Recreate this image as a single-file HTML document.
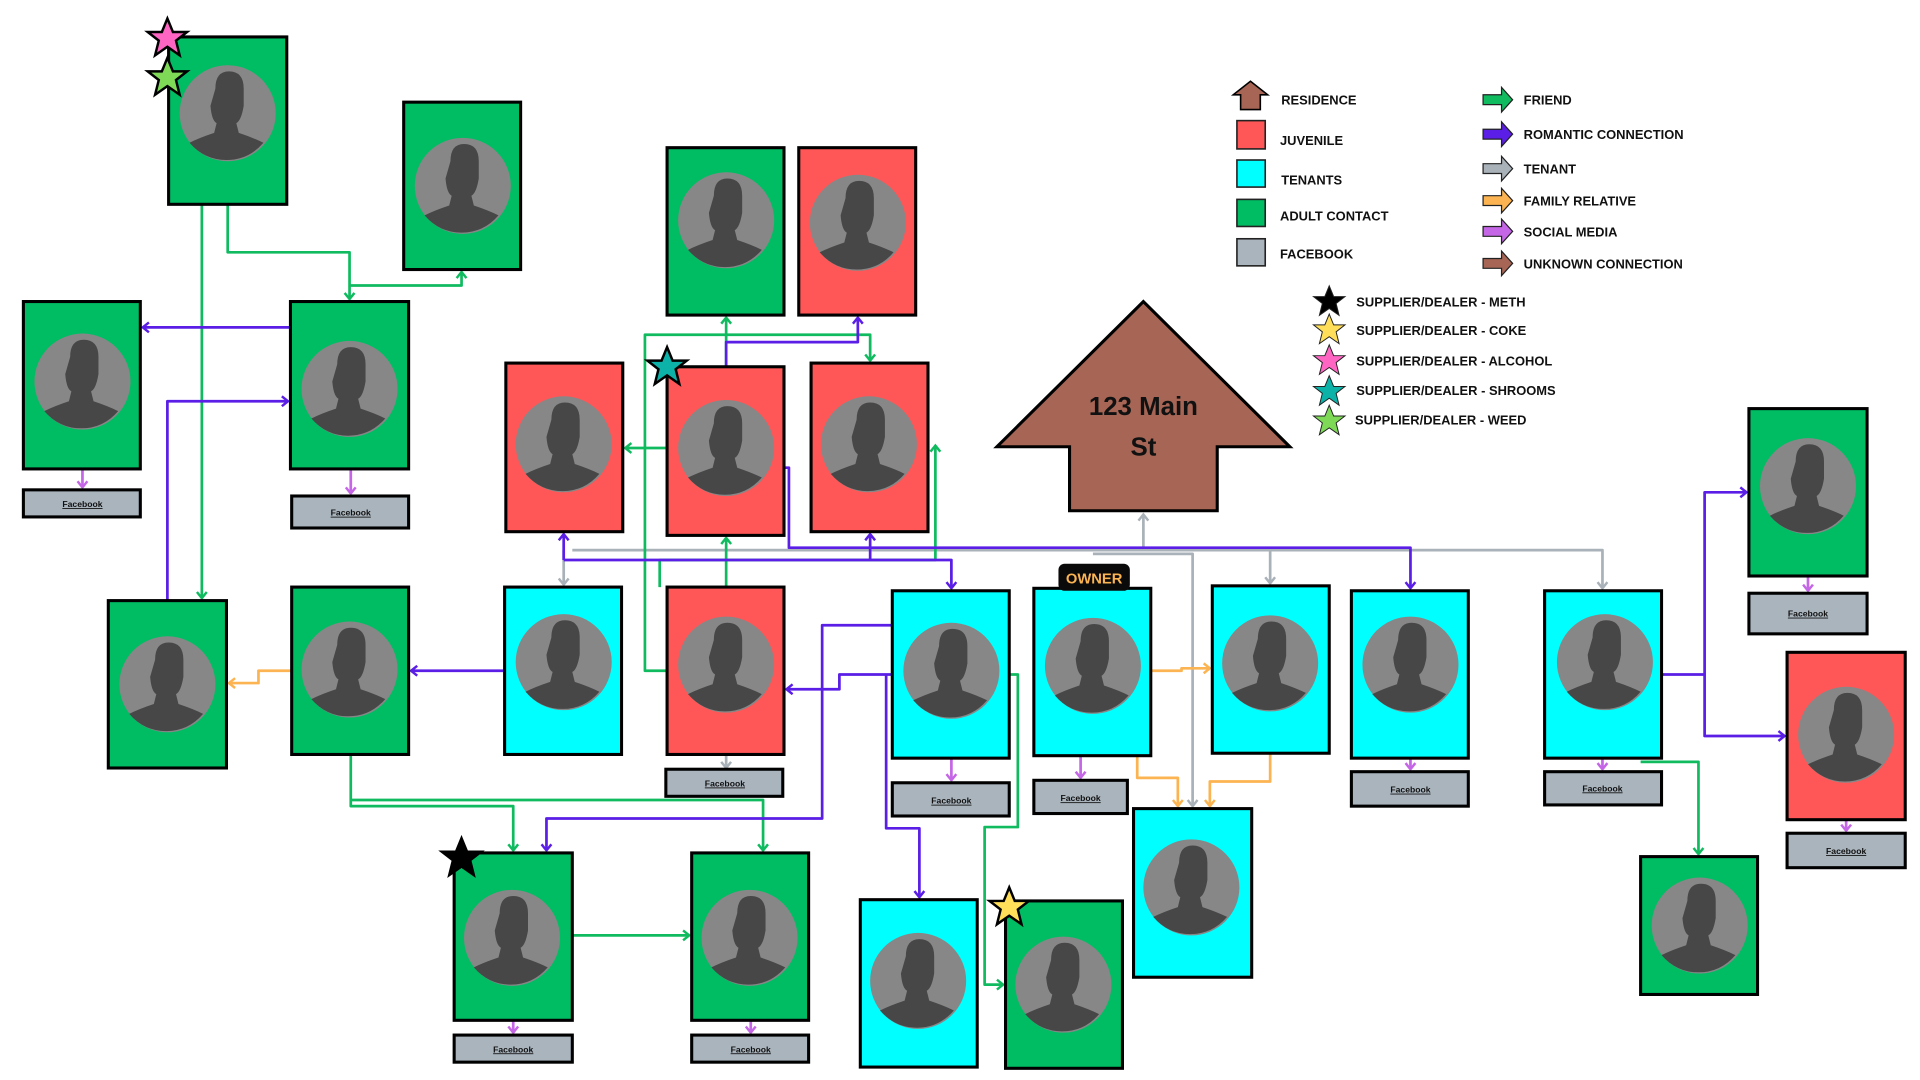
<!DOCTYPE html>
<html><head><meta charset="utf-8"><style>
html,body{margin:0;padding:0;background:#fff;overflow:hidden}
svg{display:block}
text{font-family:"Liberation Sans",sans-serif;font-weight:bold}
</style></head><body>
<svg width="1920" height="1080" viewBox="0 0 1560 877.5" preserveAspectRatio="none" xmlns="http://www.w3.org/2000/svg">
<defs>
<g id="av"><circle cx="0" cy="0" r="39" fill="#878787"/>
<path d="M-10,-20 q0,-14 11,-14 q12,0 12,14 l0,14 q-2,12 -6,14 l2,8 q12,4 20,8 q-12,14 -30,14 q-18,0 -30,-14 q8,-4 20,-8 l2,-8 q-4,-2 -5,-14 z" fill="#474747"/></g>
<marker id="mg" markerWidth="10" markerHeight="10" refX="7" refY="5" orient="auto" markerUnits="userSpaceOnUse"><path d="M2,1 L7,5 L2,9" fill="none" stroke="#10bb60" stroke-width="2"/></marker>
<marker id="mp" markerWidth="10" markerHeight="10" refX="7" refY="5" orient="auto" markerUnits="userSpaceOnUse"><path d="M2,1 L7,5 L2,9" fill="none" stroke="#5a1ee6" stroke-width="2"/></marker>
<marker id="my" markerWidth="10" markerHeight="10" refX="7" refY="5" orient="auto" markerUnits="userSpaceOnUse"><path d="M2,1 L7,5 L2,9" fill="none" stroke="#a9b2b9" stroke-width="2"/></marker>
<marker id="mo" markerWidth="10" markerHeight="10" refX="7" refY="5" orient="auto" markerUnits="userSpaceOnUse"><path d="M2,1 L7,5 L2,9" fill="none" stroke="#fbb451" stroke-width="2"/></marker>
<marker id="ms" markerWidth="10" markerHeight="10" refX="7" refY="5" orient="auto" markerUnits="userSpaceOnUse"><path d="M2,1 L7,5 L2,9" fill="none" stroke="#c466e6" stroke-width="2"/></marker>
<path id="star" d="M0,-16 L4.5,-5 L16,-5 L7,2 L10,14 L0,7 L-10,14 L-7,2 L-16,-5 L-4.5,-5 Z"/>
</defs>

<g fill="none" stroke-width="2.2" stroke-linejoin="round">
<g stroke="#a9b2b9">
<polyline points="465,447 1302,447 1302,478" marker-end="url(#my)"/>
<polyline points="458,447 458,475" marker-end="url(#my)"/>
<polyline points="1032,447 1032,474" marker-end="url(#my)"/>
<polyline points="929,447 929,418" marker-end="url(#my)"/>
<polyline points="888,450 969,450 969,655" marker-end="url(#my)"/>
<polyline points="590,614 590,624" marker-end="url(#my)"/>
</g>
<g stroke="#10bb60">
<polyline points="185,166 185,205 284,205 284,243" marker-end="url(#mg)"/>
<polyline points="284,232 375,232 375,221" marker-end="url(#mg)"/>
<polyline points="164,166 164,486" marker-end="url(#mg)"/>
<polyline points="285,613 285,655 417,655 417,691" marker-end="url(#mg)"/>
<polyline points="285,650 620,650 620,691" marker-end="url(#mg)"/>
<polyline points="465,760 560,760" marker-end="url(#mg)"/>
<polyline points="590,298 590,258" marker-end="url(#mg)"/>
<polyline points="542,364 508,364" marker-end="url(#mg)"/>
<polyline points="542,545 524,545 524,272 707,272 707,293" marker-end="url(#mg)"/>
<polyline points="590,477 590,437" marker-end="url(#mg)"/>
<polyline points="536,477 536,455 760,455 760,362" marker-end="url(#mg)"/>
<polyline points="820,548 827,548 827,672 800,672 800,800 815,800" marker-end="url(#mg)"/>
<polyline points="1333,619 1380,619 1380,694" marker-end="url(#mg)"/>
</g>
<g stroke="#5a1ee6">
<polyline points="236,266 116,266" marker-end="url(#mp)"/>
<polyline points="136,488 136,326 234,326" marker-end="url(#mp)"/>
<polyline points="590,298 590,278 697,278 697,258" marker-end="url(#mp)"/>
<polyline points="638,380 641,380 641,445 1146,445 1146,478" marker-end="url(#mp)"/>
<polyline points="458,455 773,455 773,478" marker-end="url(#mp)"/>
<polyline points="458,455 458,434" marker-end="url(#mp)"/>
<polyline points="707,455 707,434" marker-end="url(#mp)"/>
<polyline points="410,545 334,545" marker-end="url(#mp)"/>
<polyline points="725,508 668,508 668,665 444,665 444,691" marker-end="url(#mp)"/>
<polyline points="725,548 682,548 682,560 639,560" marker-end="url(#mp)"/>
<polyline points="720,548 720,673 747,673 747,729" marker-end="url(#mp)"/>
<polyline points="1350,548 1385,548 1385,400 1419,400" marker-end="url(#mp)"/>
<polyline points="1385,548 1385,598 1450,598" marker-end="url(#mp)"/>
</g>
<g stroke="#fbb451">
<polyline points="237,545 210,545 210,555 186,555" marker-end="url(#mo)"/>
<polyline points="935,545 960,545 960,543 983,543" marker-end="url(#mo)"/>
<polyline points="924,614 924,632 957,632 957,655" marker-end="url(#mo)"/>
<polyline points="1032,612 1032,635 983,635 983,655" marker-end="url(#mo)"/>
</g>
<g stroke="#c466e6">
<polyline points="67,382 67,396" marker-end="url(#ms)"/>
<polyline points="285,382 285,401" marker-end="url(#ms)"/>
<polyline points="773,617 773,634" marker-end="url(#ms)"/>
<polyline points="878,615 878,632" marker-end="url(#ms)"/>
<polyline points="1146,617 1146,625" marker-end="url(#ms)"/>
<polyline points="1302,617 1302,625" marker-end="url(#ms)"/>
<polyline points="1469,469 1469,480" marker-end="url(#ms)"/>
<polyline points="1500,667 1500,675" marker-end="url(#ms)"/>
<polyline points="417,830 417,839" marker-end="url(#ms)"/>
<polyline points="610,830 610,839" marker-end="url(#ms)"/>
</g>
</g>

<g stroke="#000" stroke-width="2.5">
<rect x="137" y="30" width="96" height="136" fill="#00bd63"/>
<rect x="328" y="83" width="95" height="136" fill="#00bd63"/>
<rect x="19" y="245" width="95" height="136" fill="#00bd63"/>
<rect x="236" y="245" width="96" height="136" fill="#00bd63"/>
<rect x="542" y="120" width="95" height="136" fill="#00bd63"/>
<rect x="649" y="120" width="95" height="136" fill="#ff5757"/>
<rect x="411" y="295" width="95" height="137" fill="#ff5757"/>
<rect x="542" y="298" width="95" height="137" fill="#ff5757"/>
<rect x="659" y="295" width="95" height="137" fill="#ff5757"/>
<rect x="88" y="488" width="96" height="136" fill="#00bd63"/>
<rect x="237" y="477" width="95" height="136" fill="#00bd63"/>
<rect x="410" y="477" width="95" height="136" fill="#00ffff"/>
<rect x="542" y="477" width="95" height="136" fill="#ff5757"/>
<rect x="725" y="480" width="95" height="136" fill="#00ffff"/>
<rect x="840" y="478" width="95" height="136" fill="#00ffff"/>
<rect x="985" y="476" width="95" height="136" fill="#00ffff"/>
<rect x="1098" y="480" width="95" height="136" fill="#00ffff"/>
<rect x="1255" y="480" width="95" height="136" fill="#00ffff"/>
<rect x="1421" y="332" width="96" height="136" fill="#00bd63"/>
<rect x="1452" y="530" width="96" height="136" fill="#ff5757"/>
<rect x="1333" y="696" width="95" height="112" fill="#00bd63"/>
<rect x="369" y="693" width="96" height="136" fill="#00bd63"/>
<rect x="562" y="693" width="95" height="136" fill="#00bd63"/>
<rect x="699" y="731" width="95" height="136" fill="#00ffff"/>
<rect x="817" y="732" width="95" height="136" fill="#00bd63"/>
<rect x="921" y="657" width="96" height="137" fill="#00ffff"/>
</g>
<g>
<use href="#av" x="185" y="92"/><use href="#av" x="376" y="151"/><use href="#av" x="67" y="310"/>
<use href="#av" x="284" y="316"/><use href="#av" x="590" y="179"/><use href="#av" x="697" y="181"/>
<use href="#av" x="458" y="361"/><use href="#av" x="590" y="364"/><use href="#av" x="706" y="361"/>
<use href="#av" x="136" y="556"/><use href="#av" x="284" y="544"/><use href="#av" x="458" y="538"/>
<use href="#av" x="590" y="540"/><use href="#av" x="773" y="545"/><use href="#av" x="888" y="541"/>
<use href="#av" x="1032" y="539"/><use href="#av" x="1146" y="540"/><use href="#av" x="1304" y="538"/>
<use href="#av" x="1469" y="395"/><use href="#av" x="1500" y="597"/><use href="#av" x="1381" y="752"/>
<use href="#av" x="416" y="762"/><use href="#av" x="609" y="762"/><use href="#av" x="746" y="797"/>
<use href="#av" x="864" y="800"/><use href="#av" x="968" y="721"/>
</g>

<g stroke="#000" stroke-width="2.5" fill="#a9b4bd">
<rect x="19" y="398" width="95" height="22"/><rect x="237" y="403" width="95" height="26"/>
<rect x="541" y="625" width="95" height="22"/><rect x="725" y="636" width="95" height="27"/>
<rect x="840" y="634" width="76" height="27"/><rect x="1098" y="627" width="95" height="28"/>
<rect x="1255" y="627" width="95" height="27"/><rect x="1421" y="482" width="96" height="33"/>
<rect x="1452" y="677" width="96" height="28"/><rect x="369" y="841" width="96" height="22"/>
<rect x="562" y="841" width="95" height="22"/>
</g>
<g font-size="7" text-anchor="middle" text-decoration="underline" fill="#111">
<text x="67" y="412">Facebook</text><text x="285" y="419">Facebook</text>
<text x="589" y="639">Facebook</text><text x="773" y="653">Facebook</text>
<text x="878" y="651">Facebook</text><text x="1146" y="644">Facebook</text>
<text x="1302" y="643">Facebook</text><text x="1469" y="501">Facebook</text>
<text x="1500" y="694">Facebook</text><text x="417" y="855">Facebook</text>
<text x="610" y="855">Facebook</text>
</g>

<polygon points="929,245 1048,363 989,363 989,415 869,415 869,363 810,363" fill="#a66555" stroke="#000" stroke-width="2.5"/>
<text x="929" y="337" font-size="21" text-anchor="middle" fill="#111">123 Main</text>
<text x="929" y="370" font-size="21" text-anchor="middle" fill="#111">St</text>

<rect x="860" y="458" width="58" height="22" rx="5" fill="#0a0a0a"/>
<text x="889" y="474" font-size="12" text-anchor="middle" fill="#fbb451">OWNER</text>

<g stroke="#000" stroke-width="2">
<use href="#star" x="136" y="31" fill="#ff66c4"/>
<use href="#star" x="136" y="63" fill="#7ed957"/>
<use href="#star" x="542" y="298" fill="#0cb1a8"/>
<use href="#star" x="375" y="697" fill="#000"/>
<use href="#star" x="820" y="737" fill="#ffde59"/>
</g>

<polygon points="1016,66 1030,77 1024,77 1024,89 1008,89 1008,77 1002,77" fill="#a66555" stroke="#000" stroke-width="1.3"/>
<g stroke="#222" stroke-width="1.3">
<rect x="1005" y="98" width="23" height="23" fill="#ff5757"/>
<rect x="1005" y="130" width="23" height="22" fill="#00ffff"/>
<rect x="1005" y="162" width="23" height="22" fill="#00bd63"/>
<rect x="1005" y="194" width="23" height="22" fill="#a9b4bd"/>
</g>
<g font-size="10.5" fill="#111">
<text x="1041" y="85">RESIDENCE</text><text x="1040" y="118">JUVENILE</text>
<text x="1041" y="150">TENANTS</text><text x="1040" y="179">ADULT CONTACT</text>
<text x="1040" y="210">FACEBOOK</text>
<text x="1238" y="85">FRIEND</text><text x="1238" y="113">ROMANTIC CONNECTION</text>
<text x="1238" y="141">TENANT</text><text x="1238" y="167">FAMILY RELATIVE</text>
<text x="1238" y="192">SOCIAL MEDIA</text><text x="1238" y="218">UNKNOWN CONNECTION</text>
<text x="1102" y="249">SUPPLIER/DEALER - METH</text><text x="1102" y="272">SUPPLIER/DEALER - COKE</text>
<text x="1102" y="297">SUPPLIER/DEALER - ALCOHOL</text><text x="1102" y="321">SUPPLIER/DEALER - SHROOMS</text>
<text x="1101" y="345">SUPPLIER/DEALER - WEED</text>
</g>
<g stroke="#222" stroke-width="1">
<path d="M1205,77 h15 v-6 l9,10 l-9,10 v-6 h-15z" fill="#10bb60"/>
<path d="M1205,105 h15 v-6 l9,10 l-9,10 v-6 h-15z" fill="#5a1ee6"/>
<path d="M1205,133 h15 v-6 l9,10 l-9,10 v-6 h-15z" fill="#a9b2b9"/>
<path d="M1205,159 h15 v-6 l9,10 l-9,10 v-6 h-15z" fill="#fbb451"/>
<path d="M1205,184 h15 v-6 l9,10 l-9,10 v-6 h-15z" fill="#c466e6"/>
<path d="M1205,210 h15 v-6 l9,10 l-9,10 v-6 h-15z" fill="#a66555"/>
</g>
<g stroke="#222" stroke-width="1">
<use href="#star" transform="translate(1080,245) scale(0.8)" fill="#000"/>
<use href="#star" transform="translate(1080,268) scale(0.8)" fill="#ffde59"/>
<use href="#star" transform="translate(1080,293) scale(0.8)" fill="#ff66c4"/>
<use href="#star" transform="translate(1080,318) scale(0.8)" fill="#0cb1a8"/>
<use href="#star" transform="translate(1080,342) scale(0.8)" fill="#7ed957"/>
</g>
</svg>
</body></html>
